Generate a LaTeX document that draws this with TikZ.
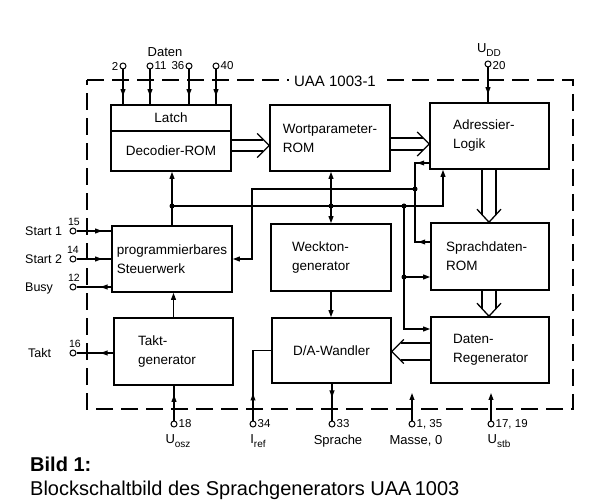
\documentclass[tikz,border=0pt]{standalone}
\usepackage{fontspec}
\setmainfont{Liberation Sans}
\usetikzlibrary{arrows.meta,calc,decorations.markings}
\newcommand\mysub[1]{\raisebox{-0.55ex}{\fontsize{10}{10}\selectfont #1}}
\tikzset{
  blk/.style={draw, line width=1.6pt, inner sep=2pt, align=left,
    font=\fontsize{13.5}{19}\selectfont},
  conn/.style={line width=1.3pt},
  pinc/.style={circle, draw, line width=1pt, inner sep=0pt, minimum size=6pt, fill=white},
  num/.style={inner sep=1pt, font=\fontsize{11.5}{11.5}\selectfont},
  snum/.style={inner sep=1pt, font=\fontsize{10.5}{10.5}\selectfont},
  lab/.style={inner sep=1pt, font=\fontsize{13}{15}\selectfont},
  border/.style={line width=2.6pt, dash pattern=on 17pt off 8pt},
  dot/.style={circle, fill, inner sep=0pt, minimum size=5pt},
  amark/.style={postaction={decorate, decoration={markings,
    mark=at position #1 with {\arrow{>}}}}},
}
\begin{document}
\begin{tikzpicture}[x=1pt, y=-1pt, >={Triangle[length=7pt,width=4.8pt]}]
\useasboundingbox (0,0) rectangle (597,502);

% dashed chip border
\draw[border] (87,80) -- (573,80) -- (573,409) -- (87,409) -- cycle;
\node[fill=white, inner xsep=5pt, inner ysep=2pt, font=\fontsize{15}{15}\selectfont] (ttl) at (335,81) {UAA 1003-1};

% blocks
\node[blk, minimum width=120pt, minimum height=26pt, align=center] (latch) at (171,118) {Latch};
\node[blk, minimum width=120pt, minimum height=40pt, align=center] (decrom) at (171,151) {Decodier-ROM};
\node[blk, minimum width=120pt, minimum height=66pt] (wort) at (330,138) {Wortparameter-\\ROM};
\node[blk, minimum width=119pt, minimum height=66pt, text width=73pt] (adr) at (489.5,136) {Adressier-\\Logik};
\node[blk, minimum width=120pt, minimum height=66pt] (prog) at (172,259) {programmierbares\\Steuerwerk};
\node[blk, minimum width=120pt, minimum height=67pt, text width=78pt] (weck) at (331,257.5) {Weckton-\\generator};
\node[blk, minimum width=118pt, minimum height=67pt, text width=88pt] (spr) at (490,256.5) {Sprachdaten-\\ROM};
\node[blk, minimum width=119pt, minimum height=67pt, text width=71pt] (takt) at (173.5,351.5) {Takt-\\generator};
\node[blk, minimum width=119pt, minimum height=65pt, align=center] (da) at (331.5,350.5) {D/A-Wandler};
\node[blk, minimum width=118pt, minimum height=66pt, text width=74pt] (regen) at (490,350) {Daten-\\Regenerator};

% junctions
\coordinate (j1) at (prog.north |- 0,206);
\coordinate (j2) at (331,206);
\coordinate (j3) at (404,206);
\coordinate (j4) at (404,277);
\coordinate (j5) at (415,189);
\coordinate (bA) at (443,206);
\coordinate (c1) at (252,189);
\coordinate (c2) at (252,259);
\coordinate (c3) at (404,329);
\coordinate (k1) at (415,163);
\coordinate (k2) at (415,242);

% internal single connectors
\draw[conn,->] (prog.north) -- (prog.north |- decrom.south);
\draw[conn,->] (j1) -- (bA) -- (bA |- adr.south);
\draw[conn,<->] (wort.south -| j2) -- (weck.north -| j2);
\draw[conn,->] (j3) -- (c3) -- (c3 -| regen.west);
\draw[conn,->] (j4) -- (j4 -| spr.west);
\draw[conn,amark=12pt] (adr.west |- k1) -- (k1) -- (j5);
\draw[conn,amark=12pt] (spr.west |- k2) -- (k2) -- (j5);
\draw[conn,->] (j5) -- (c1) -- (c2) -- (c2 -| prog.east);
\draw[conn,->] (weck.south) -- (weck.south |- da.north);
\draw[conn,->] (takt.north) -- (takt.north |- prog.south);
\node[dot] (d1) at (j1) {};
\node[dot] (d2) at (j2) {};
\node[dot] (d3) at (j3) {};
\node[dot] (d4) at (j4) {};
\node[dot] (d5) at (j5) {};

% wide (data bus) arrows
\draw[conn] (decrom.east |- 0,140) -- ($(wort.west |- 0,140)+(-6,0)$);
\draw[conn] (decrom.east |- 0,151) -- ($(wort.west |- 0,151)+(-6,0)$);
\draw[conn] ($(wort.west |- 0,145.5)+(-12,-12)$) -- (wort.west |- 0,145.5) -- ($(wort.west |- 0,145.5)+(-12,12)$);

\draw[conn] (wort.east |- 0,138) -- ($(adr.west |- 0,138)+(-6,0)$);
\draw[conn] (wort.east |- 0,150) -- ($(adr.west |- 0,150)+(-6,0)$);
\draw[conn] ($(adr.west |- 0,144)+(-12,-12)$) -- (adr.west |- 0,144) -- ($(adr.west |- 0,144)+(-12,12)$);

\draw[conn] (adr.south -| 482,0) -- ($(spr.north -| 482,0)+(0,-7)$);
\draw[conn] (adr.south -| 496,0) -- ($(spr.north -| 496,0)+(0,-7)$);
\draw[conn] ($(spr.north -| 489,0)+(-12,-13)$) -- (spr.north -| 489,0) -- ($(spr.north -| 489,0)+(12,-13)$);

\draw[conn] (spr.south -| 482,0) -- ($(regen.north -| 482,0)+(0,-7)$);
\draw[conn] (spr.south -| 496,0) -- ($(regen.north -| 496,0)+(0,-7)$);
\draw[conn] ($(regen.north -| 489,0)+(-12,-13)$) -- (regen.north -| 489,0) -- ($(regen.north -| 489,0)+(12,-13)$);

\draw[conn] (regen.west |- 0,343) -- ($(da.east |- 0,343)+(9,0)$);
\draw[conn] (regen.west |- 0,360) -- ($(da.east |- 0,360)+(9,0)$);
\draw[conn] ($(da.east |- 0,351.5)+(12,-12)$) -- (da.east |- 0,351.5) -- ($(da.east |- 0,351.5)+(12,12)$);

% top pins
\node[lab] (ldat) at (165,52) {Daten};
\node[pinc] (p2) at (123,66) {};
\node[pinc] (p11) at (150,66) {};
\node[pinc] (p36) at (189,66) {};
\node[pinc] (p40) at (216,66) {};
\node[num, anchor=east] (l2) at (p2.west) {2};
\node[num, anchor=west] (l11) at (p11.east) {11};
\node[num, anchor=east] (l36) at (p36.west) {36};
\node[num, anchor=west] (l40) at (p40.east) {40};
\draw[conn,amark=-8pt] (p2) -- (p2 |- latch.north);
\draw[conn,amark=-8pt] (p11) -- (p11 |- latch.north);
\draw[conn,amark=-8pt] (p36) -- (p36 |- latch.north);
\draw[conn,amark=-8pt] (p40) -- (p40 |- latch.north);

\node[pinc] (pdd) at (488,64) {};
\node[num, anchor=west] (l20) at ($(pdd.east)+(0,2)$) {20};
\node[lab] (ludd) at (489,50) {U\mysub{DD}};
\draw[conn,amark=-8pt] (pdd) -- (pdd |- adr.north);

% left pins
\node[pinc] (ps1) at (73,231) {};
\node[pinc] (ps2) at (73,259) {};
\node[pinc] (pbu) at (73,287) {};
\node[pinc] (ptk) at (73,353) {};
\node[snum] (l15) at (74,222) {15};
\node[snum] (l14) at (73,250) {14};
\node[snum] (l12) at (74,278) {12};
\node[snum] (l16) at (75,344) {16};
\node[lab, anchor=west, font=\fontsize{12.5}{15}\selectfont] (ls1) at (24,231) {Start 1};
\node[lab, anchor=west, font=\fontsize{12.5}{15}\selectfont] (ls2) at (24,259) {Start 2};
\node[lab, anchor=west, font=\fontsize{12.5}{15}\selectfont] (lbu) at (24,288) {Busy};
\node[lab, anchor=west, font=\fontsize{12.5}{15}\selectfont] (ltk) at (27,353) {Takt};
\draw[conn,amark=-9pt] (ps1) -- (ps1 -| prog.west);
\draw[conn,amark=-9pt] (ps2) -- (ps2 -| prog.west);
\draw[conn,amark=-24pt] (pbu -| prog.west) -- (pbu);
\draw[conn,amark=-24pt] (ptk -| takt.west) -- (ptk);

% bottom pins
\node[pinc] (posz) at (174,424) {};
\node[pinc] (pref) at (253,424) {};
\node[pinc] (pspr) at (332,424) {};
\node[pinc] (pmas) at (412,424) {};
\node[pinc] (pstb) at (491,424) {};
\node[num, anchor=west] (l18) at (posz.east) {18};
\node[num, anchor=west] (l34) at (pref.east) {34};
\node[num, anchor=west] (l33) at (pspr.east) {33};
\node[num, anchor=west] (l135) at (pmas.east) {1, 35};
\node[num, anchor=west] (l1719) at (pstb.east) {17, 19};
\node[lab] (losz) at (178,441) {U\mysub{osz}};
\node[lab] (lref) at (258,441) {I\mysub{ref}};
\node[lab] (lspr) at (338,441) {Sprache};
\node[lab] (lmas) at (416,441) {Masse, 0};
\node[lab] (lstb) at (499,441) {U\mysub{stb}};
\coordinate (mtop) at (412,393);
\coordinate (stbtop) at (491,393);
\draw[conn,amark=-9pt] (posz) -- (posz |- takt.south);
\draw[conn,amark=27pt] (pref) -- (pref |- da.west) -- (da.west);
\draw[conn,amark=-23pt] (pspr |- da.south) -- (pspr);
\draw[conn,->] (pmas) -- (mtop);
\draw[conn,->] (pstb) -- (stbtop);

% caption
\node[anchor=base west, inner sep=0pt, font=\bfseries\fontsize{20}{20}\selectfont] (cap1) at (30,471) {Bild 1:};
\node[anchor=base west, inner sep=0pt, font=\fontsize{20}{20}\selectfont] (cap2) at (30,495) {Blockschaltbild des Sprachgenerators UAA\,1003};
\end{tikzpicture}
\end{document}
